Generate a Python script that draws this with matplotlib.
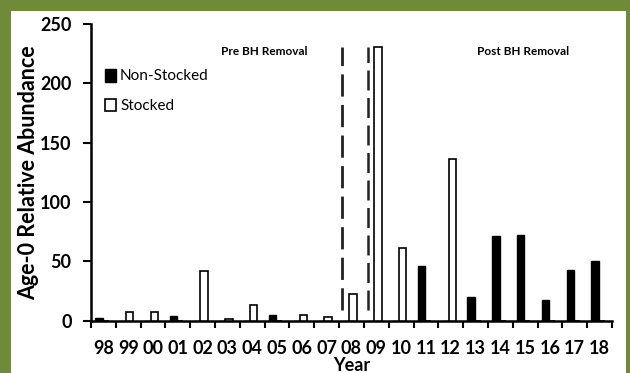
import matplotlib
matplotlib.use("Agg")
import matplotlib.pyplot as plt
import numpy as np
from matplotlib.patches import Rectangle

years = ["98", "99", "00", "01", "02", "03", "04", "05", "06", "07",
         "08", "09", "10", "11", "12", "13", "14", "15", "16", "17", "18"]
non_stocked = [2, 0, 0, 4, 0, 0, 0, 5, 0, 0, 0, 0, 0, 46, 0, 20, 71, 72, 17, 43, 50]
stocked = [0, 7, 7, 0, 42, 1, 13, 0, 5, 3, 22, 231, 61, 0, 136, 0, 0, 0, 0, 0, 0]
y_ticks = [0, 50, 100, 150, 200, 250]

FONT = ["Lato", "DejaVu Sans"]
plt.rcParams["font.family"] = FONT

fig = plt.figure(figsize=(6.3, 3.73), dpi=100)
green = "#6f8b3a"
fig.patch.set_facecolor(green)
# white panel
fig.patches.append(Rectangle((11 / 630, 0), (626 - 11) / 630, 1 - 11 / 373,
                             transform=fig.transFigure, facecolor="white",
                             edgecolor="none", zorder=-10))

ax = fig.add_axes([91 / 630, 1 - 320.5 / 373, (612 - 91) / 630, (320.5 - 24) / 373])
ax.set_zorder(5)
ax.set_facecolor("none")
x = np.arange(len(years))
w = 0.3
ax.bar(x - 0.18, non_stocked, width=w, color="black", edgecolor="black", linewidth=1.0,
       label="Non-Stocked", zorder=3)
ax.bar(x + 0.06, stocked, width=w, color="white", edgecolor="black", linewidth=1.2,
       label="Stocked", zorder=3)

# dashed separators
ax.plot([9.63, 9.63], [8.5, 231], color="#222222", lw=2.0, dashes=(8, 3), zorder=2)
ax.plot([10.66, 10.66], [8.5, 231], color="#222222", lw=1.8, dashes=(8, 3), zorder=2)

ax.set_xlim(-0.5, len(years) - 0.5)
ax.set_ylim(0, 250)
ax.set_yticks(y_ticks)
ax.set_yticklabels([str(v) for v in y_ticks], fontsize=13, fontweight="bold")
ax.set_xticks(np.arange(-0.5, len(years), 1.0))
ax.set_xticklabels([])
ax.set_xticks(x, minor=True)
ax.set_xticklabels(years, minor=True, fontsize=13, fontweight="bold")
ax.tick_params(axis="x", which="minor", length=0, pad=14)
ax.tick_params(axis="x", which="major", length=5, width=1.5, direction="out")
ax.tick_params(axis="y", length=6, width=1.5, direction="out", pad=8)
for s in ["top", "right"]:
    ax.spines[s].set_visible(False)
for s in ["left", "bottom"]:
    ax.spines[s].set_linewidth(1.8)

ax.set_ylabel("Age-0 Relative Abundance", fontsize=15.5, fontweight="bold", labelpad=1)
ax.set_xlabel("Year", fontsize=13, fontweight="bold", labelpad=0)

ax.text(6.5, 226.4, "Pre BH Removal", fontsize=8.5, fontweight="bold", ha="center", va="center")
ax.text(16.9, 226.4, "Post BH Removal", fontsize=8.5, fontweight="bold", ha="center", va="center")

leg = ax.legend(loc="upper left", bbox_to_anchor=(0.0, 0.895), frameon=False, fontsize=11,
                handlelength=0.75, handleheight=0.9, handletextpad=0.25, labelspacing=1.0)

fig.savefig("out.png", dpi=100, facecolor=fig.get_facecolor())
